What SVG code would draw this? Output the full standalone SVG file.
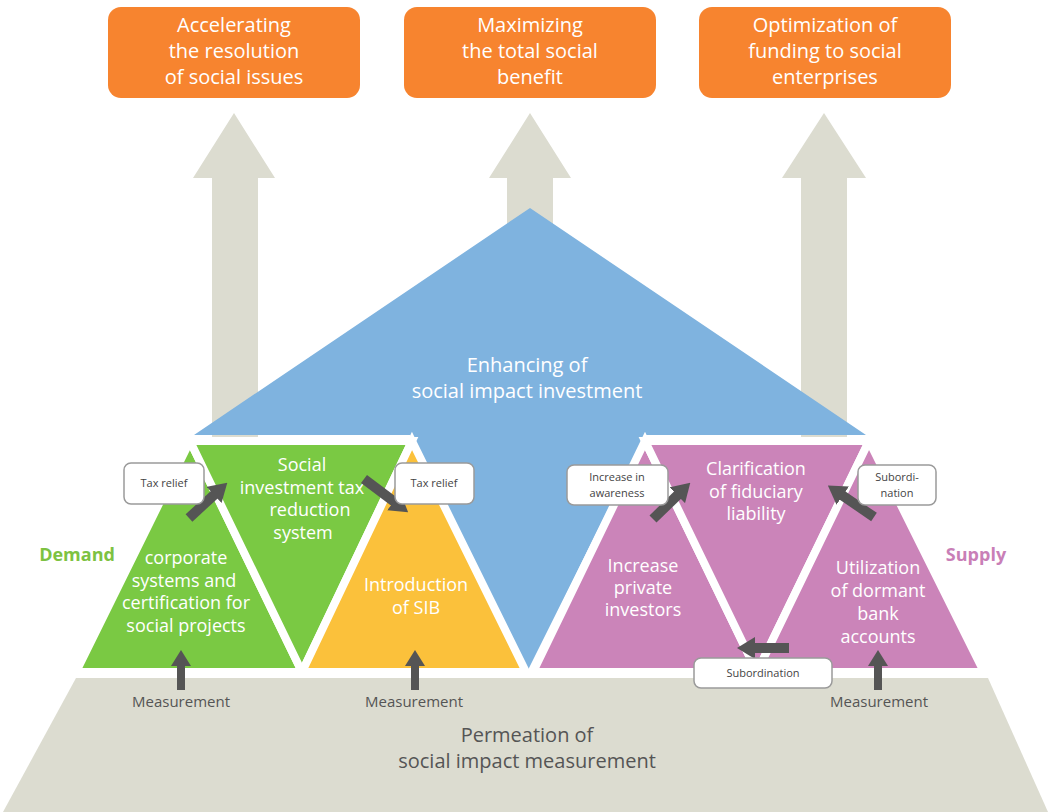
<svg xmlns="http://www.w3.org/2000/svg" width="1048" height="812" viewBox="0 0 1048 812">
<style>
.t{font-family:"Open Sans","Liberation Sans",sans-serif;fill:#fff;text-anchor:middle}
.big{font-size:20px}
.mid{font-size:18px}
.sm{font-family:"Open Sans","Liberation Sans",sans-serif;font-size:11px;fill:#444;text-anchor:middle}
.meas{font-family:"Open Sans","Liberation Sans",sans-serif;font-size:15px;fill:#555;text-anchor:middle}
.perm{font-family:"Open Sans","Liberation Sans",sans-serif;font-size:20px;fill:#555;text-anchor:middle}
.tri{stroke:#fff;stroke-width:8;stroke-linejoin:miter}
.box{fill:#fff;stroke:#9a9a9a;stroke-width:1.5}
.org{fill:#f7842f}
.garrow{fill:#dcdcd0}
.conn{stroke:#555;stroke-width:10;fill:none;marker-end:url(#ah)}
.mconn{stroke:#555;stroke-width:8;fill:none;marker-end:url(#ah2)}
</style>
<defs>
<marker id="ah" markerUnits="userSpaceOnUse" markerWidth="18" markerHeight="22" viewBox="0 0 18 22" refX="1" refY="11" orient="auto">
<path d="M0,0 L18,11 L0,22 z" fill="#555"/>
</marker>
<marker id="ah2" markerUnits="userSpaceOnUse" markerWidth="16" markerHeight="20" viewBox="0 0 16 20" refX="1" refY="10" orient="auto">
<path d="M0,0 L16,10 L0,20 z" fill="#555"/>
</marker>
</defs>

<g id="goal-arrows">
<polygon class="garrow" points="234,113 275,178 258,178 258,450 212,450 212,178 193,178"/>
<polygon class="garrow" points="530,113 571,178 553,178 553,450 507,450 507,178 489,178"/>
<polygon class="garrow" points="824,113 866,178 847,178 847,450 801,450 801,178 782,178"/>
</g>

<g id="goal-1">
<rect class="org" x="108" y="7" width="252" height="91" rx="13"/>
<text class="t big" x="234" y="32">Accelerating</text>
<text class="t big" x="234" y="58">the resolution</text>
<text class="t big" x="234" y="84">of social issues</text>
</g>
<g id="goal-2">
<rect class="org" x="404" y="7" width="252" height="91" rx="13"/>
<text class="t big" x="530" y="32">Maximizing</text>
<text class="t big" x="530" y="58">the total social</text>
<text class="t big" x="530" y="84">benefit</text>
</g>
<g id="goal-3">
<rect class="org" x="699" y="7" width="252" height="91" rx="13"/>
<text class="t big" x="825" y="32">Optimization of</text>
<text class="t big" x="825" y="58">funding to social</text>
<text class="t big" x="825" y="84">enterprises</text>
</g>

<g id="investment">
<polygon fill="#7fb3df" points="530,208 866,435 645,435 528,670 410,435 194,435"/>
<text class="t big" x="527" y="372">Enhancing of</text>
<text class="t big" x="527" y="398">social impact investment</text>
</g>

<g id="demand-corporate">
<polygon class="tri" fill="#7ac943" points="190,441 302,672 76,672"/>
<text class="t mid" x="186" y="564">corporate</text>
<text class="t mid" x="184" y="587">systems and</text>
<text class="t mid" x="186" y="609">certification for</text>
<text class="t mid" x="186" y="632">social projects</text>
</g>
<g id="demand-tax">
<polygon class="tri" fill="#7ac943" points="190,441 412,441 302,672"/>
<text class="t mid" x="302" y="471">Social</text>
<text class="t mid" x="302" y="494">investment tax</text>
<text class="t mid" x="310" y="516">reduction</text>
<text class="t mid" x="303" y="539">system</text>
</g>
<g id="demand-sib">
<polygon class="tri" fill="#fbc13b" points="412,441 526,672 302,672"/>
<text class="t mid" x="416" y="591">Introduction</text>
<text class="t mid" x="416" y="614">of SIB</text>
</g>

<g id="supply-investors">
<polygon class="tri" fill="#cb84b9" points="645,441 757,672 533,672"/>
<text class="t mid" x="643" y="572">Increase</text>
<text class="t mid" x="643" y="594">private</text>
<text class="t mid" x="643" y="616">investors</text>
</g>
<g id="supply-fiduciary">
<polygon class="tri" fill="#cb84b9" points="645,441 869,441 757,672"/>
<text class="t mid" x="756" y="475">Clarification</text>
<text class="t mid" x="756" y="498">of fiduciary</text>
<text class="t mid" x="756" y="520">liability</text>
</g>
<g id="supply-dormant">
<polygon class="tri" fill="#cb84b9" points="869,441 984,672 757,672"/>
<text class="t mid" x="878" y="574">Utilization</text>
<text class="t mid" x="878" y="597">of dormant</text>
<text class="t mid" x="878" y="620">bank</text>
<text class="t mid" x="878" y="643">accounts</text>
</g>

<g id="measurement">
<polygon fill="#dcdcd0" points="76,678 988,678 1048,812 3,812"/>
<text class="perm" x="527" y="742">Permeation of</text>
<text class="perm" x="527" y="768">social impact measurement</text>
<text class="meas" x="181" y="707">Measurement</text>
<text class="meas" x="414" y="707">Measurement</text>
<text class="meas" x="879" y="707">Measurement</text>
</g>

<g id="label-demand">
<text x="77" y="561" font-family="'Open Sans','Liberation Sans',sans-serif" font-size="18" font-weight="bold" fill="#7dc242" text-anchor="middle">Demand</text>
</g>
<g id="label-supply">
<text x="976" y="561" font-family="'Open Sans','Liberation Sans',sans-serif" font-size="18" font-weight="bold" fill="#c97fb7" text-anchor="middle">Supply</text>
</g>

<g id="connectors">
<line class="conn" x1="189" y1="518" x2="214.8" y2="494.2"/>
<line class="conn" x1="364" y1="479" x2="394.6" y2="502.1"/>
<line class="conn" x1="653" y1="519" x2="678.1" y2="494.6"/>
<line class="conn" x1="874" y1="517" x2="841.9" y2="495.1"/>
<line class="conn" x1="789" y1="648" x2="754" y2="648"/>
<line class="mconn" x1="181" y1="690" x2="181" y2="665"/>
<line class="mconn" x1="415" y1="690" x2="415" y2="665"/>
<line class="mconn" x1="878" y1="690" x2="878" y2="665"/>
</g>

<g id="box-tax-1">
<rect class="box" x="124" y="463" width="80" height="41" rx="7"/>
<text class="sm" x="164" y="487">Tax relief</text>
</g>
<g id="box-tax-2">
<rect class="box" x="395" y="463" width="79" height="41" rx="7"/>
<text class="sm" x="434" y="487">Tax relief</text>
</g>
<g id="box-awareness">
<rect class="box" x="567" y="465" width="101" height="40" rx="7"/>
<text class="sm" x="617" y="481">Increase  in</text>
<text class="sm" x="617" y="497">awareness</text>
</g>
<g id="box-subordi">
<rect class="box" x="858" y="465" width="78" height="40" rx="7"/>
<text class="sm" x="897" y="481">Subordi-</text>
<text class="sm" x="897" y="497">nation</text>
</g>
<g id="box-subordination">
<rect class="box" x="694" y="658" width="138" height="30" rx="7"/>
<text class="sm" x="763" y="677">Subordination</text>
</g>
</svg>
